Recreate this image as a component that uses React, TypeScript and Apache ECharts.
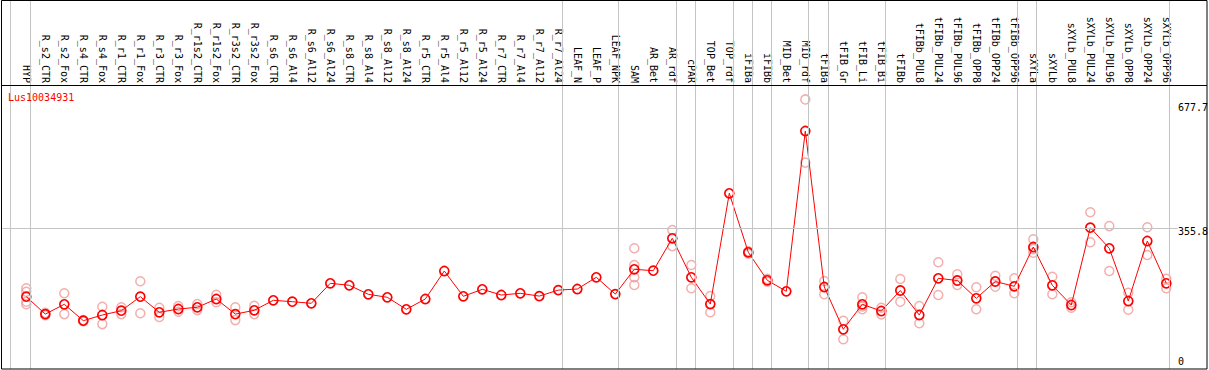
import React, { useEffect, useRef } from "react";
import * as echarts from "echarts";

const categories = [
  "HYP", "R_s2_CTR", "R_s2_Fox", "R_s4_CTR", "R_s4_Fox", "R_r1_CTR", "R_r1_Fox", "R_r3_CTR", "R_r3_Fox",
  "R_r1s2_CTR", "R_r1s2_Fox", "R_r3s2_CTR", "R_r3s2_Fox", "R_s6_CTR", "R_s6_Al4", "R_s6_Al12", "R_s6_Al24",
  "R_s8_CTR", "R_s8_Al4", "R_s8_Al12", "R_s8_Al24", "R_r5_CTR", "R_r5_Al4", "R_r5_Al12", "R_r5_Al24",
  "R_r7_CTR", "R_r7_Al4", "R_r7_Al12", "R_r7_Al24", "LEAF_N", "LEAF_P", "LEAF_NPK", "SAM", "AR_Bet", "AR_rdf",
  "cPAR", "TOP_Bet", "TOP_rdf", "iFIBa", "iFIBb", "MID_Bet", "MID_rdf", "tFIBa", "tFIB_Gr", "tFIB_Li", "tFIB_Bi",
  "tFIBb", "tFIBb_PUL8", "tFIBb_PUL24", "tFIBb_PUL96", "tFIBb_OPP8", "tFIBb_OPP24", "tFIBb_OPP96", "sXYLa",
  "sXYLb", "sXYLb_PUL8", "sXYLb_PUL24", "sXYLb_PUL96", "sXYLb_OPP8", "sXYLb_OPP24", "sXYLb_OPP96",
];

const meanValues = [
  184.5, 141, 165.5, 124.5, 138.7, 149.5, 184.5, 145.5, 153.7, 158, 178.7, 141, 150.5, 175.5, 172, 168, 218,
  213, 190.5, 183, 153, 178.7, 248.7, 185.5, 203, 188.7, 193, 186, 201, 203.7, 233, 191, 253, 249.5, 330.5,
  233, 166, 443, 295.5, 225.5, 198, 598.7, 208.7, 103, 165.5, 148.7, 200, 138.7, 230.5, 225, 180.5, 222.5,
  210.5, 308.7, 213, 163.7, 357, 305.5, 173.7, 323.7, 218,
];

const replicates: number[][] = [
  [205.5, 197, 172, 165.5], [144, 138], [193, 141], [126, 123], [159.5, 116], [158, 141], [223, 143],
  [157, 134], [161, 147], [166, 151], [189.5, 170.5], [158, 126], [162, 141], [], [], [], [],
  [], [], [], [], [], [], [], [], [], [], [], [], [], [], [], [305.5, 263.7, 233, 213.7], [], [351, 311],
  [263.7, 205.5], [186, 145.5], [], [298, 292], [229, 222], [], [677.7, 519.7], [223.7, 190.5], [124.5, 78],
  [183, 153, 160], [157, 140.4], [228.7, 172], [161, 118], [270.5, 188.7], [240.5, 213.7], [208, 153],
  [237, 209.5], [230.5, 193], [328, 294.5, 303.5], [234.5, 190.5], [170.5, 157], [395.5, 320.5],
  [361, 248.7], [194.5, 152], [358, 288.7], [229.5, 205.5],
];

// group separators, in category-index units
const groupBreaks = [-0.85, 0.2, 28.2, 31.18, 34.2, 35.2, 37.2, 38.2, 39.2, 41.18, 42.2, 45.2, 52.18, 53.18, 60.17];
const refLineValue = 355.8;
const yTickLabels = ["677.7", "355.8", "0"];
const geneId = "Lus10034931";

const FONT = "'DejaVu Sans Mono', 'Liberation Mono', monospace";
const Y_MIN = 3.75;
const Y_MAX = 926.25;

export default function App() {
  const ref = useRef<HTMLDivElement>(null);
  useEffect(() => {
    document.body.style.margin = "0";
    if (!ref.current) return;
    const chart = echarts.init(ref.current, null, { renderer: "svg" });
    const repData: [number, number][] = [];
    replicates.forEach((arr, i) => arr.forEach((v) => repData.push([i, v])));
    const option: any = {
      animation: false,
      grid: [
        { left: 2, top: 0, width: 1205, height: 369, containLabel: false },
        { left: 16.8, top: 0, width: 1159, height: 369, containLabel: false },
      ],
      xAxis: [
        { gridIndex: 0, type: "value", min: -1.2789, max: 62.142, show: false },
        {
          gridIndex: 1,
          type: "category",
          data: categories,
          position: "top",
          offset: -85,
          axisLine: { show: false },
          axisTick: { show: false },
          splitLine: { show: false },
          axisLabel: {
            interval: 0,
            rotate: 90,
            margin: 2,
            fontFamily: FONT,
            fontSize: 10,
            color: "#000",
            hideOverlap: false,
          },
        },
      ],
      yAxis: [
        { gridIndex: 0, type: "value", min: Y_MIN, max: Y_MAX, show: false },
        { gridIndex: 1, type: "value", min: Y_MIN, max: Y_MAX, show: false },
      ],
      series: [
        {
          type: "line",
          xAxisIndex: 0,
          yAxisIndex: 0,
          data: [],
          silent: true,
          markLine: {
            silent: true,
            symbol: "none",
            label: { show: false },
            lineStyle: { color: "#c4c4c4", width: 1, type: "solid" },
            data: [
              ...groupBreaks.map((b) => ({ xAxis: b })),
              [{ coord: [-1.27, refLineValue] }, { coord: [60.6, refLineValue] }],
            ],
          },
        },
        {
          type: "scatter",
          xAxisIndex: 1,
          yAxisIndex: 1,
          data: repData,
          symbol: "circle",
          symbolSize: 9,
          itemStyle: { color: "rgba(0,0,0,0)", borderColor: "#f09a9a", borderWidth: 1.5 },
          z: 3,
        },
        {
          type: "line",
          xAxisIndex: 1,
          yAxisIndex: 1,
          data: meanValues,
          symbol: "circle",
          symbolSize: 9,
          showAllSymbol: true,
          lineStyle: { color: "#ff0000", width: 1 },
          itemStyle: { color: "rgba(0,0,0,0)", borderColor: "#ff0000", borderWidth: 1.7 },
          z: 4,
        },
      ],
      graphic: [
        {
          type: "rect",
          shape: { x: 1.5, y: 0.5, width: 1205.5, height: 368.5 },
          style: { fill: "none", stroke: "#000", lineWidth: 1 },
          z: 100,
        },
        {
          type: "line",
          shape: { x1: 1.5, y1: 85.5, x2: 1207, y2: 85.5 },
          style: { stroke: "#000", lineWidth: 1 },
          z: 100,
        },
        {
          type: "text",
          x: 8,
          y: 97,
          style: { text: geneId, fill: "#ff0000", font: `10px ${FONT}`, verticalAlign: "middle", align: "left" },
          z: 100,
        },
        ...yTickLabels.map((t, i) => ({
          type: "text",
          x: 1178,
          y: [107, 231.7, 361.7][i],
          style: { text: t, fill: "#000", font: `10px ${FONT}`, verticalAlign: "middle", align: "left" },
          z: 90,
        })),
      ],
    };
    chart.setOption(option);
    return () => chart.dispose();
  }, []);
  return <div ref={ref} style={{ width: 1209, height: 370 }} />;
}
